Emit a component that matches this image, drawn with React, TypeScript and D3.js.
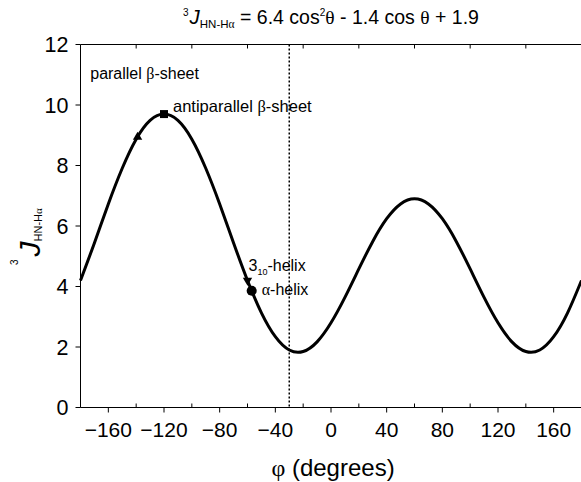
import React from 'react';
import * as d3 from 'd3';

// Karplus curve values (phi in degrees, 3J in Hz)
const phiDeg = [-180, -170, -160, -150, -140, -130, -120, -110, -100, -90, -80, -70, -60, -50, -40, -30, -20, -10, 0, 10, 20, 30, 40, 50, 60, 70, 80, 90, 100, 110, 120, 130, 140, 150, 160, 170, 180];
const jValues = [4.20, 5.44, 6.73, 7.91, 8.87, 9.49, 9.70, 9.49, 8.87, 7.91, 6.73, 5.44, 4.20, 3.13, 2.34, 1.90, 1.85, 2.17, 2.80, 3.64, 4.58, 5.49, 6.24, 6.73, 6.90, 6.73, 6.24, 5.49, 4.58, 3.64, 2.80, 2.17, 1.85, 1.90, 2.34, 3.13, 4.20];

const xTicks = [-160, -120, -80, -40, 0, 40, 80, 120, 160];
const xMinorTicks = [-140, -100, -60, -20, 20, 60, 100, 140];
const yTicks = [0, 2, 4, 6, 8, 10, 12];

const confNames = ['parallel', 'antiparallel', '310', 'alpha'];
const confPhi = [-139, -120, -60, -57];
const confJ = [8.94, 9.70, 4.20, 3.86];
const refLinePhi = -30;

const W = 581;
const H = 482;
const FONT = "'Liberation Sans', Arial, Helvetica, sans-serif";
const SERIF = "'Liberation Serif', 'Times New Roman', serif";

export default function App() {
  const x = d3.scaleLinear().domain([-180, 180]).range([80.5, 581.5]);
  const y = d3.scaleLinear().domain([0, 12]).range([407.5, 44.5]);

  const pts = phiDeg.map((p, i) => [p, jValues[i]] as [number, number]);
  const line = d3
    .line<[number, number]>()
    .x((d) => x(d[0]))
    .y((d) => y(d[1]))
    .curve(d3.curveNatural);

  const tri = d3.symbol().type(d3.symbolTriangle).size(38)() as string;
  const sq = d3.symbol().type(d3.symbolSquare).size(64)() as string;
  const circ = d3.symbol().type(d3.symbolCircle).size(80)() as string;

  const x0 = x(-180);
  const x1 = x(180);
  const yTop = y(12);
  const yBot = y(0);

  const mk = (i: number) => [x(confPhi[i]), y(confJ[i])];
  const [pbx, pby] = mk(0);
  const [apx, apy] = mk(1);
  const [h3x, h3y] = mk(2);
  const [hax, hay] = mk(3);

  return (
    <svg
      width={W}
      height={H}
      style={{ position: 'absolute', left: 0, top: 0, background: '#fff' }}
      fontFamily={FONT}
    >
      <rect width={W} height={H} fill="#fff" />
      {/* Title */}
      <text x={183} y={24} fontSize={19.5} fill="#000">
        <tspan fontSize={10} dy={-8}>3</tspan>
        <tspan fontStyle="italic" fontSize={20.5} dy={8} dx={1}>J</tspan>
        <tspan fontSize={11.5} dy={4}>HN-H</tspan>
        <tspan fontSize={11.5} fontFamily={SERIF}>α</tspan>
        <tspan dy={-4}> = 6.4 cos</tspan>
        <tspan fontSize={10} dy={-8}>2</tspan>
        <tspan fontFamily={SERIF} dy={8}>θ</tspan>
        <tspan> - 1.4 cos </tspan>
        <tspan fontFamily={SERIF}>θ</tspan>
        <tspan> + 1.9</tspan>
      </text>

      {/* Frame lines */}
      <line x1={x0} x2={x1} y1={yTop} y2={yTop} stroke="#000" strokeWidth={1} />
      <line x1={x0} x2={x1} y1={yBot} y2={yBot} stroke="#000" strokeWidth={1} />
      <line x1={x0} x2={x0} y1={yTop} y2={yBot} stroke="#000" strokeWidth={1} />

      {/* Y ticks */}
      {yTicks.map((t) => (
        <g key={'y' + t}>
          <line x1={x0 - 5} x2={x0} y1={y(t)} y2={y(t)} stroke="#000" strokeWidth={1} />
          <text x={x0 - 12} y={y(t) + 7.8} fontSize={21.5} textAnchor="end" fill="#000">
            {t}
          </text>
        </g>
      ))}

      {/* X ticks */}
      {xTicks.map((t) => (
        <g key={'x' + t}>
          <line x1={x(t)} x2={x(t)} y1={yBot} y2={yBot + 5} stroke="#000" strokeWidth={1} />
          <text x={x(t)} y={yBot + 29} fontSize={21} textAnchor="middle" fill="#000">
            {t < 0 ? '\u2212' + Math.abs(t) : String(t)}
          </text>
        </g>
      ))}
      {xMinorTicks.map((t) => (
        <g key={'xm' + t}>
          <line x1={x(t)} x2={x(t)} y1={yBot} y2={yBot - 4} stroke="#000" strokeWidth={1} />
          <line x1={x(t)} x2={x(t)} y1={yTop} y2={yTop + 4} stroke="#000" strokeWidth={1} />
        </g>
      ))}

      {/* Axis titles */}
      <text x={333} y={476} fontSize={24} textAnchor="middle" fill="#000">
        <tspan fontFamily={SERIF}>φ</tspan>
        <tspan> (degrees)</tspan>
      </text>
      <text transform="translate(40,265) rotate(-90)" fontSize={30} fill="#000">
        <tspan fontSize={10} dy={-22}>3</tspan>
        <tspan fontStyle="italic" dy={22} dx={3}>J</tspan>
        <tspan fontSize={11} dy={2}>HN-H</tspan>
        <tspan fontSize={11} fontFamily={SERIF}>α</tspan>
      </text>

      {/* Reference dotted line */}
      <line
        x1={x(refLinePhi)}
        x2={x(refLinePhi)}
        y1={yTop}
        y2={yBot}
        stroke="#000"
        strokeWidth={1.5}
        strokeDasharray="2,2"
      />

      {/* Curve */}
      <path d={line(pts) as string} fill="none" stroke="#000" strokeWidth={3} />

      {/* Markers */}
      <path d={tri} transform={`translate(${pbx},${pby})`} fill="#000" />
      <path d={sq} transform={`translate(${apx},${apy})`} fill="#000" />
      <path d={tri} transform={`translate(${h3x},${h3y}) rotate(180)`} fill="#000" />
      <path d={circ} transform={`translate(${hax},${hay})`} fill="#000" />

      {/* Labels */}
      <text x={x(-173)} y={y(10.87)} fontSize={16} fill="#000">
        <tspan>parallel </tspan>
        <tspan fontFamily={SERIF}>β</tspan>
        <tspan>-sheet</tspan>
      </text>
      <text x={apx + 9} y={apy - 2} fontSize={16.5} fill="#000">
        <tspan>antiparallel </tspan>
        <tspan fontFamily={SERIF}>β</tspan>
        <tspan>-sheet</tspan>
      </text>
      <text x={h3x + 1} y={h3y - 9} fontSize={16} fill="#000">
        <tspan>3</tspan>
        <tspan fontSize={9} dy={4}>10</tspan>
        <tspan dy={-4}>-helix</tspan>
      </text>
      <text x={hax + 10} y={hay + 4} fontSize={16} fill="#000">
        <tspan fontFamily={SERIF}>α</tspan>
        <tspan>-helix</tspan>
      </text>
    </svg>
  );
}
